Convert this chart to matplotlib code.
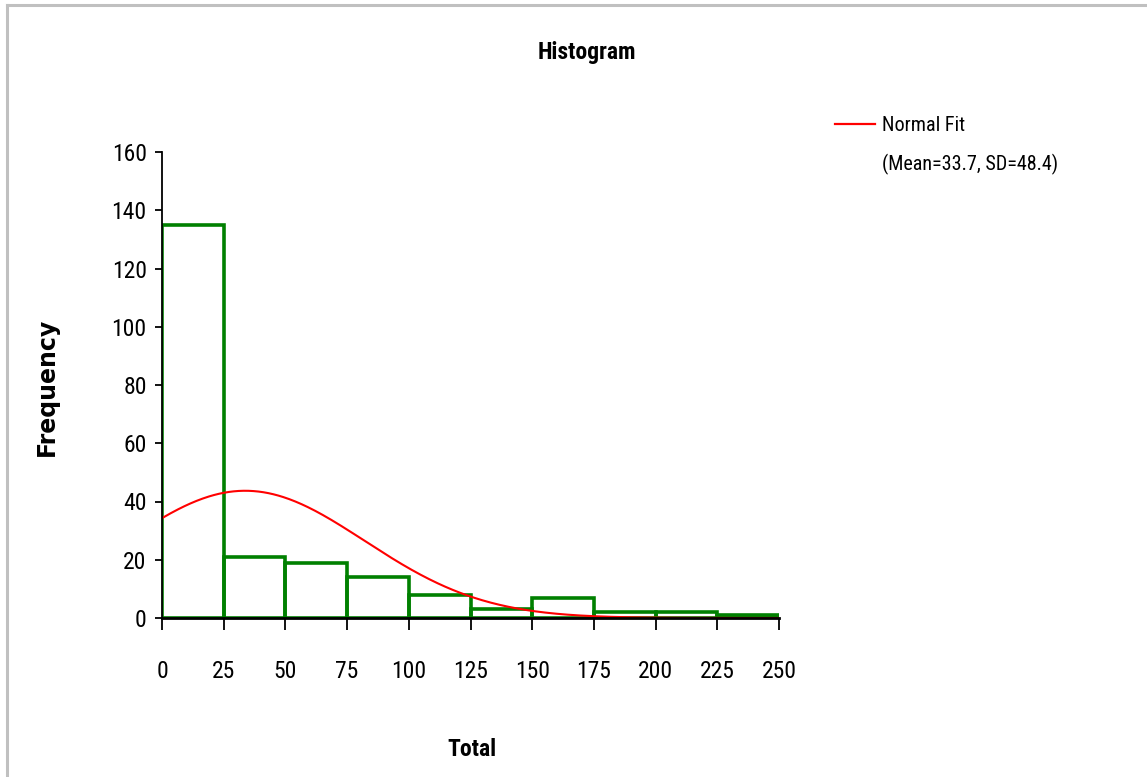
import numpy as np
import matplotlib.pyplot as plt
from matplotlib.lines import Line2D
from matplotlib import font_manager

# histogram bins (Total) and counts
bin_edges = [0, 25, 50, 75, 100, 125, 150, 175, 200, 225, 250]
counts = [135, 21, 19, 14, 8, 3, 7, 2, 2, 1]

# normal fit parameters from the legend
fit_mean = 33.7
fit_sd = 48.4

x_ticks = [0, 25, 50, 75, 100, 125, 150, 175, 200, 225, 250]
y_ticks = [0, 20, 40, 60, 80, 100, 120, 140, 160]


def pick_font(names):
    have = {f.name for f in font_manager.fontManager.ttflist}
    for n in names:
        if n in have:
            return n
    return 'DejaVu Sans'


def main():
    narrow = pick_font(['Liberation Sans Narrow', 'Arial Narrow', 'Roboto Condensed', 'Liberation Sans'])

    fig = plt.figure(figsize=(11.47, 7.77), dpi=100)
    ax = fig.add_axes([162 / 1147, 1 - 618 / 777, 617 / 1147, 466 / 777])

    # outer grey frame (top and left edge)
    fig.add_artist(Line2D([0.006, 0.006], [0, 0.994], color='#c0c0c0', lw=2.2,
                          transform=fig.transFigure))
    fig.add_artist(Line2D([0.006, 1.0], [0.994, 0.994], color='#c0c0c0', lw=2.2,
                          transform=fig.transFigure))

    # histogram outline
    edges = np.array(bin_edges)
    widths = np.diff(edges)
    ax.bar(edges[:-1], counts, width=widths, align='edge', fill=False,
           edgecolor='#008000', linewidth=2.6, zorder=3)

    # normal fit curve scaled to the counts
    n = sum(counts)
    xs = np.linspace(0, 250, 500)
    scale = n * widths[0] / (fit_sd * np.sqrt(2 * np.pi))
    ys = scale * np.exp(-0.5 * ((xs - fit_mean) / fit_sd) ** 2)
    ax.plot(xs, ys, color='#ff0000', lw=1.5, zorder=4, label='Normal Fit')
    ax.plot([], [], color='none', label='(Mean=33.7, SD=48.4)')

    ax.set_xlim(0, 250)
    ax.set_ylim(0, 160)
    ax.set_xticks(x_ticks)
    ax.set_yticks(y_ticks)
    for s in ['top', 'right']:
        ax.spines[s].set_visible(False)
    ax.spines['left'].set_linewidth(1.3)
    ax.spines['bottom'].set_linewidth(2.0)
    ax.spines['left'].set_zorder(5)
    ax.spines['bottom'].set_zorder(5)
    ax.tick_params(axis='x', direction='out', length=8.5, width=1.3, pad=22,
                   labelsize=17)
    ax.tick_params(axis='y', direction='out', length=5, width=1.3, pad=6,
                   labelsize=17)
    for lab in ax.get_xticklabels() + ax.get_yticklabels():
        lab.set_family(narrow)

    fig.text(0.512, 1 - 52 / 777, 'Histogram', ha='center', va='center',
             fontsize=17, fontweight='bold', family=narrow)
    fig.text(472 / 1147, 1 - 750 / 777, 'Total', ha='center', va='center',
             fontsize=17, fontweight='bold', family=narrow)
    fig.text(47 / 1147, 1 - 387 / 777, 'Frequency', ha='center', va='center',
             rotation=90, fontsize=17, fontweight='bold', family='DejaVu Sans')

    leg = ax.legend(loc='upper left', bbox_to_anchor=(827 / 1147, 1 - 108 / 777),
                    bbox_transform=fig.transFigure, frameon=False,
                    prop={'family': narrow, 'size': 14.5}, handlelength=2.0,
                    handletextpad=0.35, labelspacing=0.95, borderaxespad=0)
    leg.get_lines()[0].set_linewidth(1.6)

    fig.savefig('out.png', dpi=100)


if __name__ == "__main__":
    main()
